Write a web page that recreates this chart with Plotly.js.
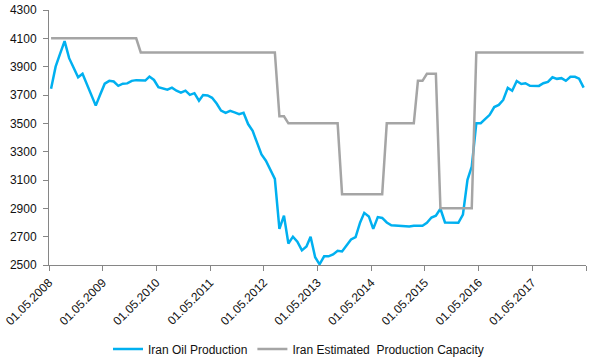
<!DOCTYPE html>
<html>
<head>
<meta charset="utf-8">
<script src="https://cdn.plot.ly/plotly-3.0.1.min.js"></script>
<style>html,body{margin:0;padding:0;background:#fff;}#chart{width:597px;height:362px;}</style>
</head>
<body>
<div id="chart"></div>
<script>
// Monthly observations, May 2008 .. April 2018 (plotted mid-month)
const startYear = 2008, startMonth = 5, nMonths = 120;
const months = [];
for (let i = 0; i < nMonths; i++) {
  const mm = (startMonth - 1 + i) % 12 + 1;
  const yy = startYear + Math.floor((startMonth - 1 + i) / 12);
  months.push(yy + "-" + String(mm).padStart(2, "0") + "-15");
}

const oilProduction = [
  3745, 3900, 3990, 4080, 3960, 3890, 3825, 3850, 3775, 3700, 3625, 3705,
  3780, 3800, 3795, 3765, 3780, 3782, 3800, 3805, 3805, 3802, 3830, 3806,
  3755, 3745, 3738, 3752, 3730, 3717, 3731, 3701, 3713, 3660, 3700, 3697,
  3680, 3640, 3590, 3574, 3588, 3577, 3565, 3574, 3495, 3447, 3365, 3280,
  3236, 3170, 3108, 2755, 2848, 2652, 2700, 2665, 2603, 2630, 2700, 2555,
  2505, 2561, 2561, 2575, 2600, 2596, 2635, 2680, 2697, 2800, 2868, 2843,
  2755, 2838, 2832, 2800, 2780, 2779, 2777, 2772, 2772, 2777, 2777, 2777,
  2797, 2835, 2848, 2897, 2800, 2798, 2798, 2798, 2855, 3101, 3195, 3501,
  3501, 3530, 3560, 3615, 3630, 3665, 3750, 3730, 3799, 3778, 3783, 3765,
  3764, 3764, 3783, 3792, 3825, 3814, 3819, 3800, 3828, 3828, 3815, 3752
];

const capacity = [
  4100, 4100, 4100, 4100, 4100, 4100, 4100, 4100, 4100, 4100, 4100, 4100,
  4100, 4100, 4100, 4100, 4100, 4100, 4100, 4100, 4000, 4000, 4000, 4000,
  4000, 4000, 4000, 4000, 4000, 4000, 4000, 4000, 4000, 4000, 4000, 4000,
  4000, 4000, 4000, 4000, 4000, 4000, 4000, 4000, 4000, 4000, 4000, 4000,
  4000, 4000, 4000, 3550, 3550, 3500, 3500, 3500, 3500, 3500, 3500, 3500,
  3500, 3500, 3500, 3500, 3500, 3000, 3000, 3000, 3000, 3000, 3000, 3000,
  3000, 3000, 3000, 3500, 3500, 3500, 3500, 3500, 3500, 3500, 3800, 3800,
  3850, 3850, 3850, 2900, 2900, 2900, 2900, 2900, 2900, 2900, 2900, 4000,
  4000, 4000, 4000, 4000, 4000, 4000, 4000, 4000, 4000, 4000, 4000, 4000,
  4000, 4000, 4000, 4000, 4000, 4000, 4000, 4000, 4000, 4000, 4000, 4000
];

const tickDates = ["2008-05-01","2009-05-01","2010-05-01","2011-05-01","2012-05-01",
  "2013-05-01","2014-05-01","2015-05-01","2016-05-01","2017-05-01","2018-05-01"];
const tickLabels = ["01.05.2008","01.05.2009","01.05.2010","01.05.2011","01.05.2012",
  "01.05.2013","01.05.2014","01.05.2015","01.05.2016","01.05.2017",""];

const seriesNames = ["Iran Oil Production", "Iran Estimated\u00a0 Production Capacity"];

const font = {family: "Liberation Sans, Arial, sans-serif", size: 12, color: "#111111"};
const axisColor = "#868686";

const traces = [
  {x: months, y: oilProduction, name: seriesNames[0], type: "scatter", mode: "lines",
   line: {color: "#00B0F0", width: 2.5}},
  {x: months, y: capacity, name: seriesNames[1], type: "scatter", mode: "lines",
   line: {color: "#A5A5A5", width: 2.5}}
];

const layout = {
  width: 597, height: 362,
  margin: {l: 49, r: 11, t: 10, b: 97, pad: 0},
  paper_bgcolor: "#fff", plot_bgcolor: "#fff",
  font: font,
  showlegend: true,
  legend: {orientation: "h", xref: "container", yref: "container",
    x: 0.5, xanchor: "center", y: 0.036, yanchor: "middle",
    font: font, tracegroupgap: 0},
  xaxis: {type: "date", range: ["2008-05-01", "2018-05-01"],
    tickmode: "array", tickvals: tickDates, ticktext: tickLabels,
    tickangle: -45, ticks: "outside", ticklen: 5, tickcolor: axisColor,
    showline: true, linecolor: axisColor, linewidth: 1,
    showgrid: false, zeroline: false, tickfont: font, fixedrange: true},
  yaxis: {range: [2500, 4300], tickmode: "linear", tick0: 2500, dtick: 200,
    ticks: "outside", ticklen: 5, tickcolor: axisColor,
    showline: true, linecolor: axisColor, linewidth: 1,
    showgrid: false, zeroline: false, tickfont: font, ticklabelstandoff: 4,
    fixedrange: true}
};

Plotly.newPlot("chart", traces, layout, {displayModeBar: false, staticPlot: true});
</script>
</body>
</html>
